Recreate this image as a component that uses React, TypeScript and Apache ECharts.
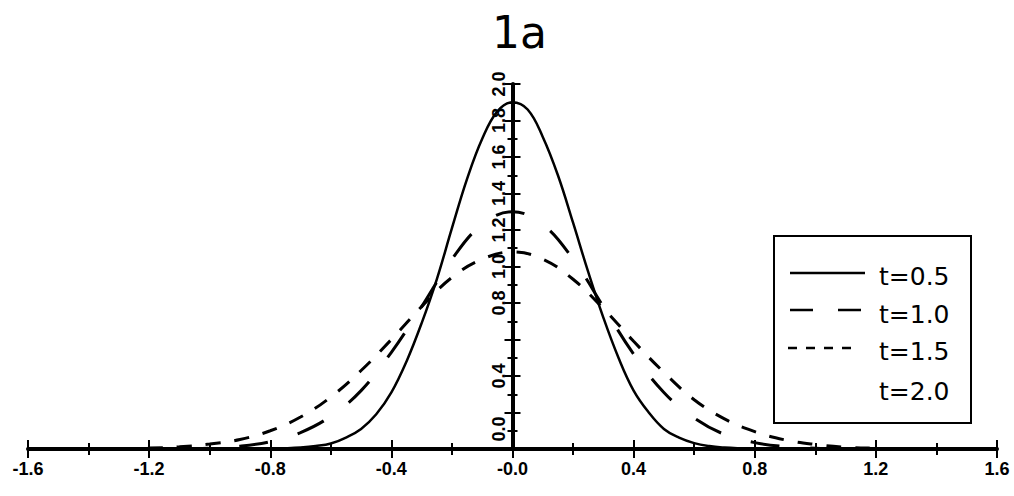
import React, { useEffect, useRef } from "react";
import * as echarts from "echarts";

const titleText = "1a";
const seriesNames = ["t=0.5", "t=1.0", "t=1.5", "t=2.0"];

const xTicks = { min: -1.6, max: 1.6, interval: 0.4 };
const yTicks = { min: 0, max: 2.0, interval: 0.2 };
const yHiddenLabels = [0.2, 0.6];

const solidX = [-1.0, -0.95, -0.9, -0.85, -0.8, -0.75, -0.7, -0.65, -0.6, -0.55, -0.5, -0.45, -0.4, -0.35, -0.3, -0.25, -0.2, -0.15, -0.1, -0.05, 0, 0.05, 0.1, 0.15, 0.2, 0.25, 0.3, 0.35, 0.4, 0.45, 0.5, 0.55, 0.6, 0.65, 0.7, 0.75, 0.8, 0.85, 0.9, 0.95, 1.0];
const solidY = [0, 0, 0.001, 0.001, 0.002, 0.004, 0.008, 0.016, 0.03, 0.063, 0.11, 0.19, 0.31, 0.48, 0.69, 0.93, 1.21, 1.48, 1.7, 1.85, 1.9, 1.86, 1.71, 1.5, 1.24, 0.97, 0.72, 0.5, 0.32, 0.2, 0.11, 0.062, 0.032, 0.016, 0.008, 0.004, 0.002, 0.001, 0.001, 0, 0];

const longX = [-1.1, -1.0, -0.9, -0.8, -0.7, -0.6, -0.5, -0.4, -0.3, -0.2, -0.1, 0, 0.1, 0.2, 0.3, 0.4, 0.5, 0.6, 0.7, 0.8, 0.9, 1.0, 1.1];
const longY = [0.002, 0.005, 0.015, 0.04, 0.09, 0.18, 0.32, 0.53, 0.78, 1.04, 1.23, 1.3, 1.23, 1.04, 0.78, 0.52, 0.31, 0.17, 0.08, 0.035, 0.013, 0.004, 0.001];

const shortX = [-1.3, -1.2, -1.1, -1.0, -0.9, -0.8, -0.7, -0.6, -0.5, -0.4, -0.3, -0.2, -0.1, 0, 0.1, 0.2, 0.3, 0.4, 0.5, 0.6, 0.7, 0.8, 0.9, 1.0, 1.1, 1.2, 1.3];
const shortY = [0.002, 0.005, 0.012, 0.027, 0.052, 0.1, 0.175, 0.285, 0.43, 0.6, 0.78, 0.94, 1.04, 1.08, 1.04, 0.93, 0.77, 0.59, 0.42, 0.27, 0.165, 0.095, 0.05, 0.025, 0.01, 0.004, 0.001];

const zip = (xs: number[], ys: number[]) => xs.map((x, i) => [x, ys[i]]);

const FONT = "Liberation Sans, Arial, sans-serif";
const LEG_FONT = "DejaVu Sans, sans-serif";

const GRID_LEFT = 28;
const GRID_RIGHT = 17;
const W = 1014;

export default function App() {
  const ref = useRef<HTMLDivElement>(null);
  useEffect(() => {
    document.body.style.margin = "0";
    if (!ref.current) return;
    const chart = echarts.init(ref.current, undefined, { renderer: "svg" });

    const xLabelFmt = (v: number) => (Math.abs(v) < 1e-9 ? "-0.0" : v.toFixed(1));
    const yLabelFmt = (v: number) => {
      if (yHiddenLabels.some((h) => Math.abs(h - v) < 1e-9)) return "";
      if (Math.abs(v) < 1e-9) return "{z|0.0}";
      return v.toFixed(1);
    };

    // y axis sits where x = 0 on the x axis
    const plotW = W - GRID_LEFT - GRID_RIGHT;
    const zeroOffset = -(plotW * (0 - xTicks.min)) / (xTicks.max - xTicks.min);

    const baseX = {
      type: "value",
      min: xTicks.min,
      max: xTicks.max,
      interval: xTicks.interval,
      position: "bottom",
      splitLine: { show: false },
      axisLine: { onZero: true, lineStyle: { color: "#000", width: 4 } },
    };
    const baseY = {
      type: "value",
      min: yTicks.min,
      max: yTicks.max,
      interval: yTicks.interval,
      position: "left",
      offset: zeroOffset,
      splitLine: { show: false },
      axisLine: { onZero: false, lineStyle: { color: "#000", width: 4 } },
    };

    const legendLegY = [273, 310, 348];
    const legendTextY = [276, 314, 351, 391];

    chart.setOption({
      animation: false,
      backgroundColor: "#fff",
      title: {
        text: titleText,
        left: 487,
        top: 5,
        textStyle: { fontFamily: LEG_FONT, fontSize: 44, fontWeight: "normal", color: "#000" },
      },
      grid: { left: GRID_LEFT, right: GRID_RIGHT, top: 84, bottom: 47, containLabel: false, outerBoundsMode: "none" },
      xAxis: [
        {
          ...baseX,
          axisTick: { show: true, length: 9, inside: false, lineStyle: { color: "#000", width: 2 } },
          minorTick: { show: true, splitNumber: 2, length: 6, lineStyle: { color: "#000", width: 2 } },
          axisLabel: {
            show: true,
            margin: 11,
            formatter: xLabelFmt,
            color: "#000",
            fontFamily: FONT,
            fontWeight: "bold",
            fontSize: 18,
          },
        },
        {
          ...baseX,
          axisLine: { show: false, onZero: true },
          axisTick: { show: true, length: 9, inside: true, lineStyle: { color: "#000", width: 2 } },
          minorTick: { show: true, splitNumber: 2, length: 6, lineStyle: { color: "#000", width: 2 } },
          axisLabel: { show: false },
        },
      ],
      yAxis: [
        {
          ...baseY,
          axisTick: { show: true, length: 8, inside: false, lineStyle: { color: "#000", width: 2 } },
          minorTick: { show: true, splitNumber: 2, length: 5, lineStyle: { color: "#000", width: 2 } },
          axisLabel: {
            show: true,
            rotate: 90,
            margin: 5,
            formatter: yLabelFmt,
            color: "#000",
            fontFamily: FONT,
            fontWeight: "bold",
            fontSize: 18,
            rich: {
              z: { padding: [0, 0, 0, 40], fontFamily: FONT, fontWeight: "bold", fontSize: 18, color: "#000" },
            },
          },
        },
        {
          ...baseY,
          axisLine: { show: false, onZero: false },
          axisTick: { show: true, length: 8, inside: true, lineStyle: { color: "#000", width: 2 } },
          minorTick: { show: true, splitNumber: 2, length: 5, lineStyle: { color: "#000", width: 2 } },
          axisLabel: { show: false },
        },
      ],
      series: [
        {
          name: seriesNames[0],
          type: "line",
          xAxisIndex: 0,
          yAxisIndex: 0,
          smooth: 0.4,
          showSymbol: false,
          data: zip(solidX, solidY),
          lineStyle: { color: "#000", width: 2.5, type: "solid" },
          z: 5,
        },
        {
          name: seriesNames[1],
          type: "line",
          xAxisIndex: 0,
          yAxisIndex: 0,
          smooth: 0.4,
          showSymbol: false,
          data: zip(longX, longY),
          lineStyle: { color: "#000", width: 3, type: [29, 31] },
          z: 5,
        },
        {
          name: seriesNames[2],
          type: "line",
          xAxisIndex: 0,
          yAxisIndex: 0,
          smooth: 0.4,
          showSymbol: false,
          data: zip(shortX, shortY),
          lineStyle: { color: "#000", width: 3, type: [15, 14] },
          z: 5,
        },
      ],
      graphic: [
        {
          type: "group",
          z: 100,
          children: [
            {
              type: "rect",
              shape: { x: 774, y: 236, width: 197, height: 187 },
              style: { fill: "#fff", stroke: "#000", lineWidth: 2 },
            },
            {
              type: "line",
              shape: { x1: 790, y1: legendLegY[0], x2: 865, y2: legendLegY[0] },
              style: { stroke: "#000", lineWidth: 2.5 },
            },
            {
              type: "line",
              shape: { x1: 790, y1: legendLegY[1], x2: 863, y2: legendLegY[1] },
              style: { stroke: "#000", lineWidth: 2.5, lineDash: [23, 25] },
            },
            {
              type: "line",
              shape: { x1: 788, y1: legendLegY[2], x2: 851, y2: legendLegY[2] },
              style: { stroke: "#000", lineWidth: 2.5, lineDash: [9, 9] },
            },
            ...seriesNames.map((n, i) => ({
              type: "text",
              x: 879,
              y: legendTextY[i],
              style: {
                text: n,
                fill: "#000",
                font: `25px ${LEG_FONT}`,
                textAlign: "left",
                textVerticalAlign: "middle",
              },
            })),
          ],
        },
      ],
    });
    return () => chart.dispose();
  }, []);
  return <div ref={ref} style={{ width: 1014, height: 496 }} />;
}
